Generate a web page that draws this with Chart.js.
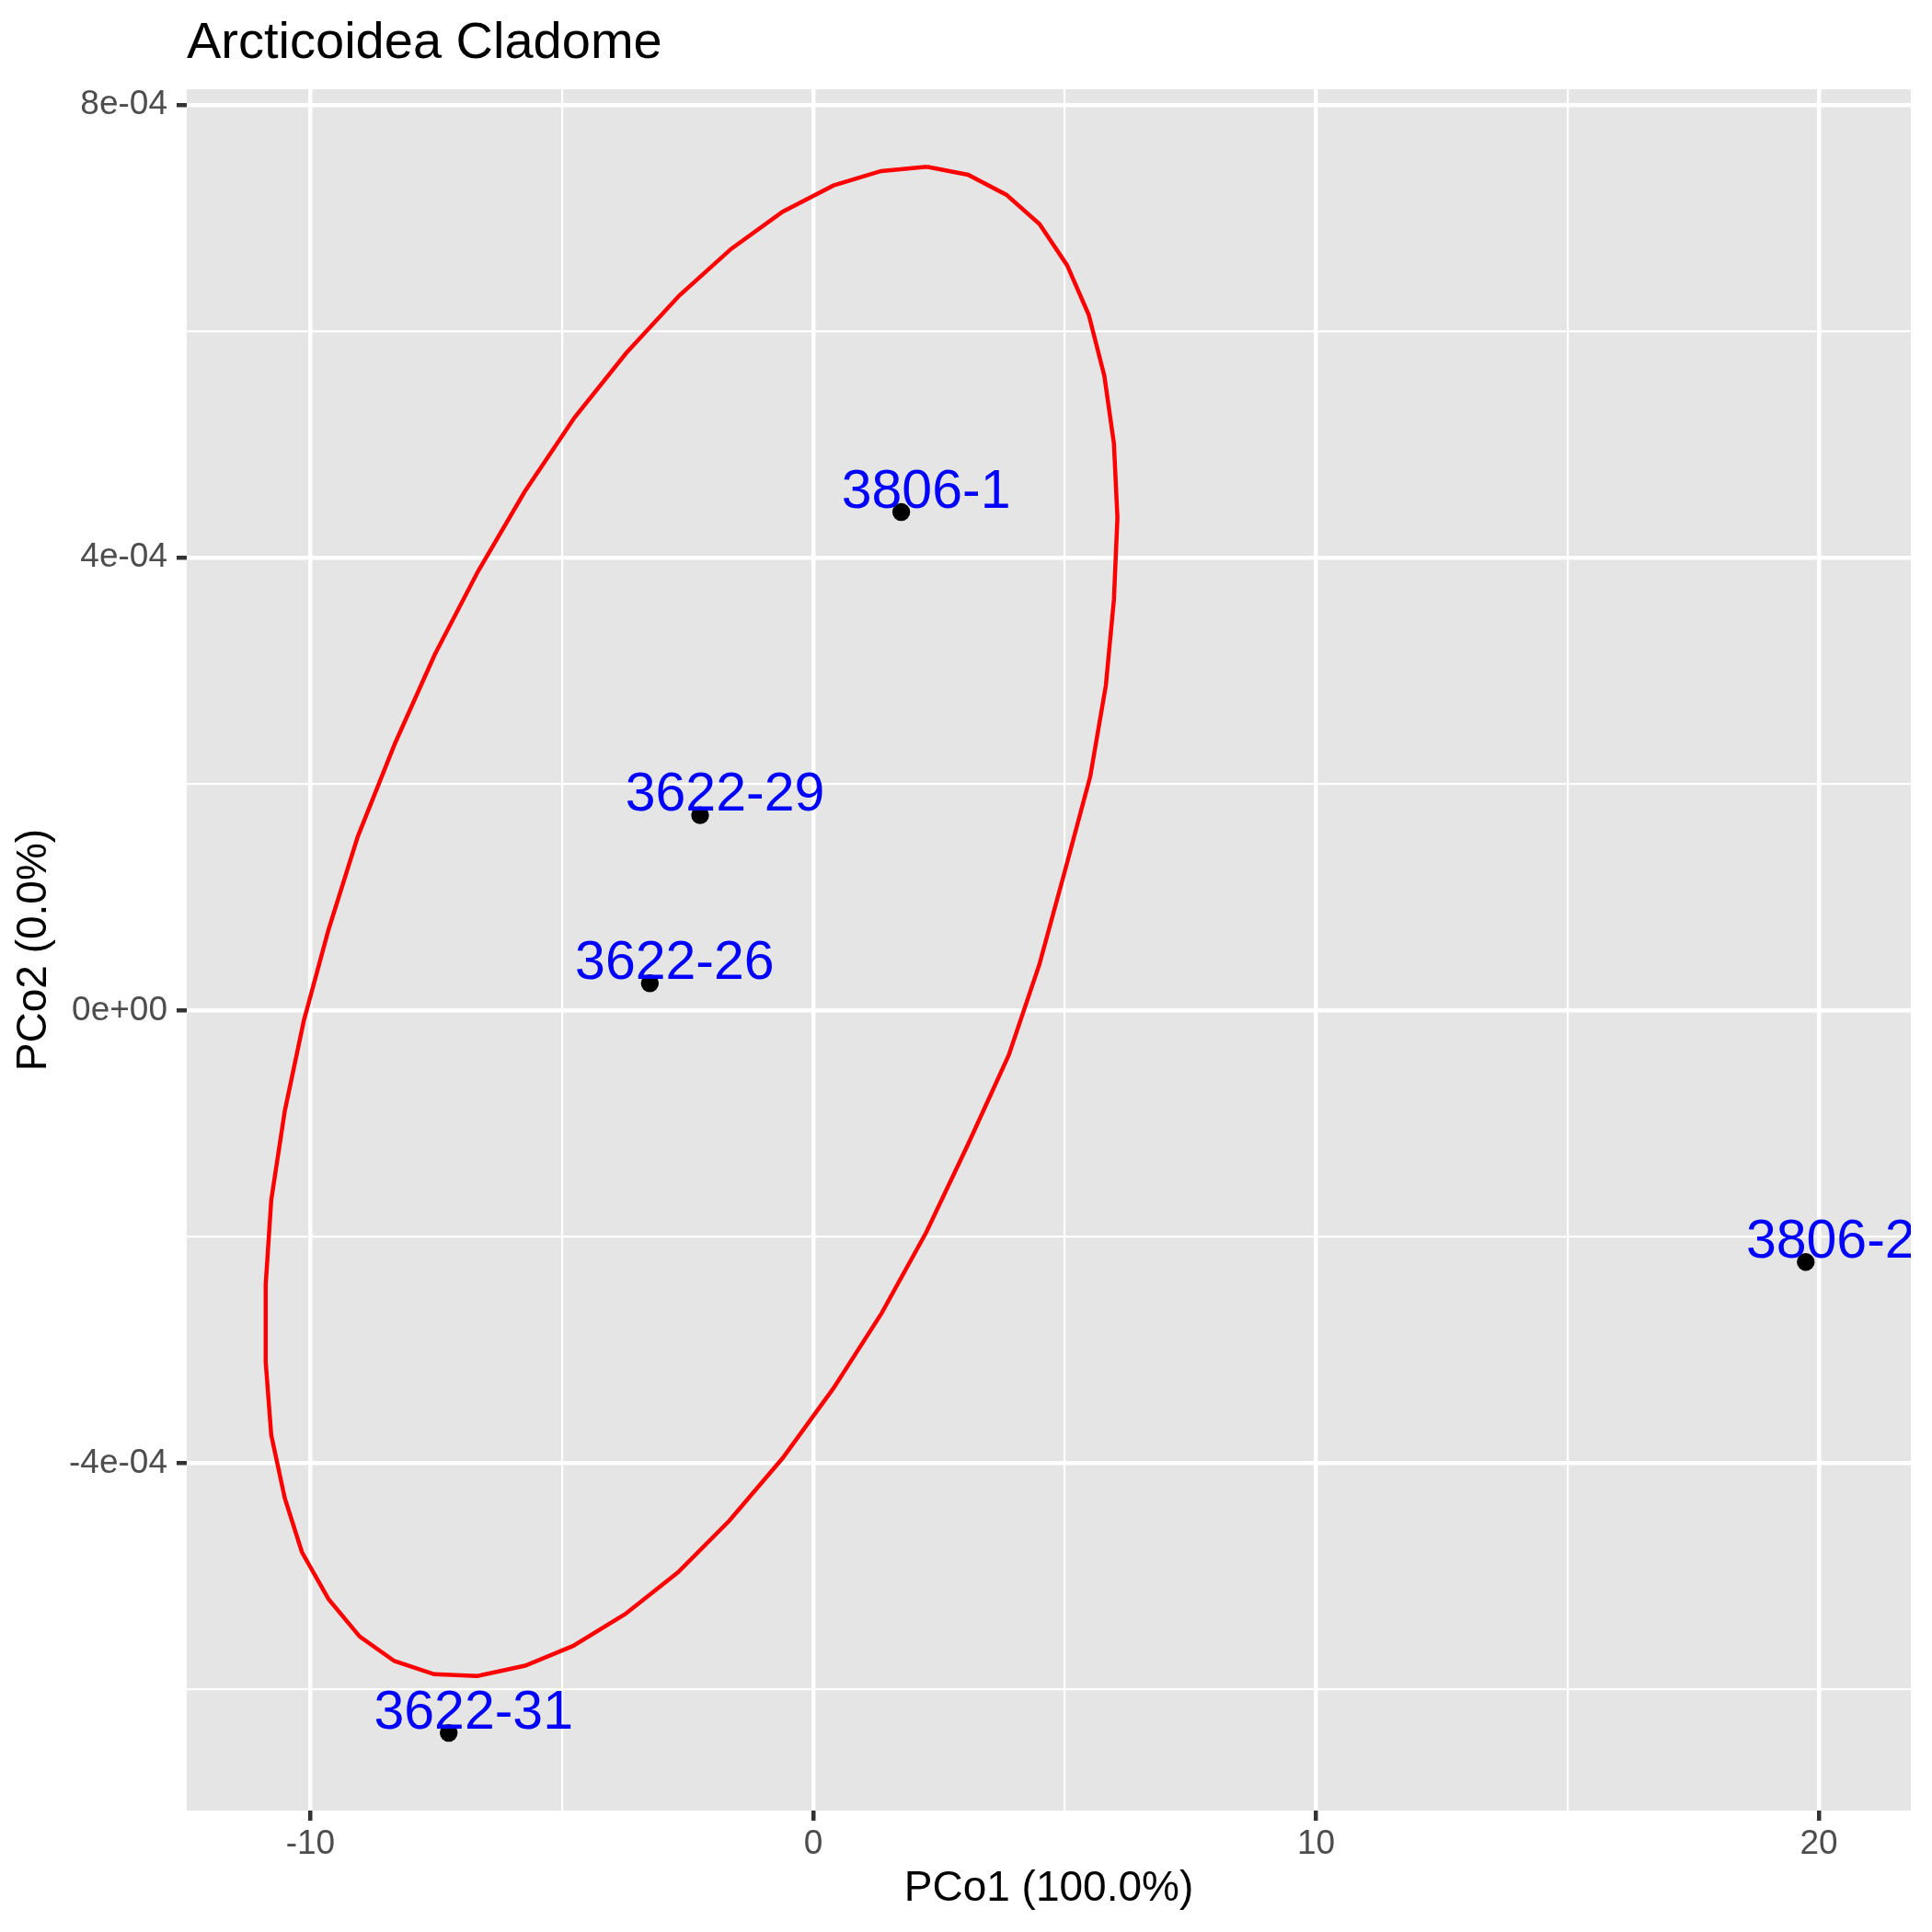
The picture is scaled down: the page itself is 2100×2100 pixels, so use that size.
<!DOCTYPE html>
<html lang="en">
<head>
    <meta charset="UTF-8">
    <title>Arcticoidea Cladome</title>
    <script src="https://cdn.jsdelivr.net/npm/chart.js"></script>
    <style>
        html, body {
            margin: 0;
            padding: 0;
            background: #ffffff;
            overflow: hidden;
        }
        #chart-box {
            width: 2100px;
            height: 2100px;
        }
    </style>
</head>
<body>
    <div id="chart-box">
        <canvas id="pcoaChart" width="2100" height="2100"></canvas>
    </div>

    <script>
        // samples (PCo1, PCo2)
        const sampleNames = ['3806-1', '3622-29', '3622-26', '3622-31', '3806-2'];
        const pco1 = [1.75, -2.25, -3.25, -7.25, 19.74];
        const pco2 = [4.404e-4, 1.725e-4, 0.240e-4, -6.384e-4, -2.223e-4];

        // ellipse outline
        const ellipseX = [2.26, 3.08, 3.84, 4.50, 5.05, 5.48, 5.79, 5.98, 6.05, 5.98,
            5.82, 5.51, 5.01, 4.50, 3.89, 3.09, 2.25, 1.36, 0.40, -0.61,
            -1.67, -2.69, -3.74, -4.78, -5.73, -6.68, -7.54, -8.33, -9.02, -9.64,
            -10.17, -10.51, -10.78, -10.89, -10.89, -10.78, -10.51, -10.13, -9.64, -9.06,
            -8.32, -7.53, -6.67, -5.74, -4.75, -3.72, -2.66, -1.63, -0.61, 0.40,
            1.35, 2.26];
        const ellipseY = [7.455e-4, 7.384e-4, 7.208e-4, 6.949e-4, 6.584e-4, 6.146e-4, 5.607e-4, 5.010e-4, 4.354e-4, 3.629e-4,
            2.872e-4, 2.069e-4, 1.240e-4, 0.410e-4, -0.393e-4, -1.172e-4, -1.959e-4, -2.675e-4, -3.340e-4, -3.957e-4,
            -4.509e-4, -4.965e-4, -5.334e-4, -5.616e-4, -5.790e-4, -5.881e-4, -5.865e-4, -5.749e-4, -5.533e-4, -5.202e-4,
            -4.786e-4, -4.310e-4, -3.750e-4, -3.106e-4, -2.422e-4, -1.676e-4, -0.887e-4, -0.088e-4, 0.714e-4, 1.534e-4,
            2.358e-4, 3.142e-4, 3.878e-4, 4.583e-4, 5.237e-4, 5.809e-4, 6.319e-4, 6.730e-4, 7.057e-4, 7.289e-4,
            7.417e-4, 7.455e-4];

        // ticks: empty label = minor grid line
        const xTickValues = [-10, -5, 0, 5, 10, 15, 20];
        const xTickLabels = ['-10', '', '0', '', '10', '', '20'];
        const yTickValues = [-6e-4, -4e-4, -2e-4, 0, 2e-4, 4e-4, 6e-4, 8e-4];
        const yTickLabels = ['', '-4e-04', '', '0e+00', '', '4e-04', '', '8e-04'];

        const xRange = [-12.46, 21.83];
        const yRange = [-7.07e-4, 8.14e-4];

        const FONT = "'Liberation Sans', Arial, Helvetica, sans-serif";

        const panelBackground = {
            id: 'panelBackground',
            beforeDraw(chart) {
                const { ctx, chartArea: a } = chart;
                ctx.save();
                ctx.fillStyle = '#E5E5E5';
                ctx.fillRect(a.left, a.top, a.right - a.left, a.bottom - a.top);
                ctx.restore();
            }
        };

        const sampleLabels = {
            id: 'sampleLabels',
            afterDatasetsDraw(chart) {
                const { ctx, chartArea: a, scales } = chart;
                ctx.save();
                ctx.beginPath();
                ctx.rect(a.left, a.top, a.right - a.left, a.bottom - a.top);
                ctx.clip();
                ctx.fillStyle = '#0000FF';
                ctx.font = '59px ' + FONT;
                ctx.textAlign = 'center';
                ctx.textBaseline = 'alphabetic';
                sampleNames.forEach((name, i) => {
                    const px = scales.x.getPixelForValue(pco1[i]);
                    const py = scales.y.getPixelForValue(pco2[i]);
                    ctx.fillText(name, px + 27, py - 5);
                });
                ctx.restore();
            }
        };

        const isMajor = (labels, ctx) => labels[ctx.index] !== '';

        const ctx = document.getElementById('pcoaChart').getContext('2d');
        new Chart(ctx, {
            type: 'scatter',
            data: {
                datasets: [
                    {
                        label: 'ellipse',
                        data: ellipseX.map((x, i) => ({ x: x, y: ellipseY[i] })),
                        showLine: true,
                        borderColor: '#FF0000',
                        borderWidth: 4.5,
                        pointRadius: 0,
                        tension: 0,
                        fill: false
                    },
                    {
                        label: 'samples',
                        data: pco1.map((x, i) => ({ x: x, y: pco2[i] })),
                        backgroundColor: '#000000',
                        borderWidth: 0,
                        pointRadius: 9.7
                    }
                ]
            },
            options: {
                responsive: false,
                devicePixelRatio: 1,
                animation: false,
                events: [],
                layout: { padding: { left: 0, right: 23, top: 0, bottom: 0 } },
                plugins: {
                    legend: { display: false },
                    tooltip: { enabled: false },
                    title: {
                        display: true,
                        text: 'Arcticoidea Cladome',
                        align: 'start',
                        fullSize: false,
                        color: '#000000',
                        font: { family: FONT, size: 56, weight: 'normal', lineHeight: 1 },
                        padding: { top: 20, bottom: 21 }
                    }
                },
                scales: {
                    x: {
                        type: 'linear',
                        min: xRange[0],
                        max: xRange[1],
                        afterBuildTicks: (scale) => {
                            scale.ticks = xTickValues.map(v => ({ value: v }));
                        },
                        afterFit: (scale) => { scale.height = 132; },
                        ticks: {
                            autoSkip: false,
                            maxRotation: 0,
                            padding: 4,
                            color: '#4D4D4D',
                            font: { family: FONT, size: 37 },
                            callback: (value, index) => xTickLabels[index]
                        },
                        grid: {
                            color: '#FFFFFF',
                            lineWidth: (c) => isMajor(xTickLabels, c) ? 4.5 : 2.2,
                            tickColor: (c) => isMajor(xTickLabels, c) ? '#333333' : 'rgba(0,0,0,0)',
                            tickWidth: 4.5,
                            tickLength: 11
                        },
                        border: { display: false },
                        title: {
                            display: true,
                            text: 'PCo1 (100.0%)',
                            color: '#000000',
                            font: { family: FONT, size: 46, lineHeight: 1.2 },
                            padding: { top: 0, bottom: 19 }
                        }
                    },
                    y: {
                        type: 'linear',
                        min: yRange[0],
                        max: yRange[1],
                        afterBuildTicks: (scale) => {
                            scale.ticks = yTickValues.map(v => ({ value: v }));
                        },
                        afterFit: (scale) => { scale.width = 203; },
                        ticks: {
                            autoSkip: false,
                            padding: 10,
                            color: '#4D4D4D',
                            font: { family: FONT, size: 37 },
                            callback: (value, index) => yTickLabels[index]
                        },
                        grid: {
                            color: '#FFFFFF',
                            lineWidth: (c) => isMajor(yTickLabels, c) ? 4.5 : 2.2,
                            tickColor: (c) => isMajor(yTickLabels, c) ? '#333333' : 'rgba(0,0,0,0)',
                            tickWidth: 4.5,
                            tickLength: 11
                        },
                        border: { display: false },
                        title: {
                            display: true,
                            text: 'PCo2 (0.0%)',
                            color: '#000000',
                            font: { family: FONT, size: 46, lineHeight: 1.2 },
                            padding: { top: 10, bottom: 0 }
                        }
                    }
                }
            },
            plugins: [panelBackground, sampleLabels]
        });
    </script>
</body>
</html>
